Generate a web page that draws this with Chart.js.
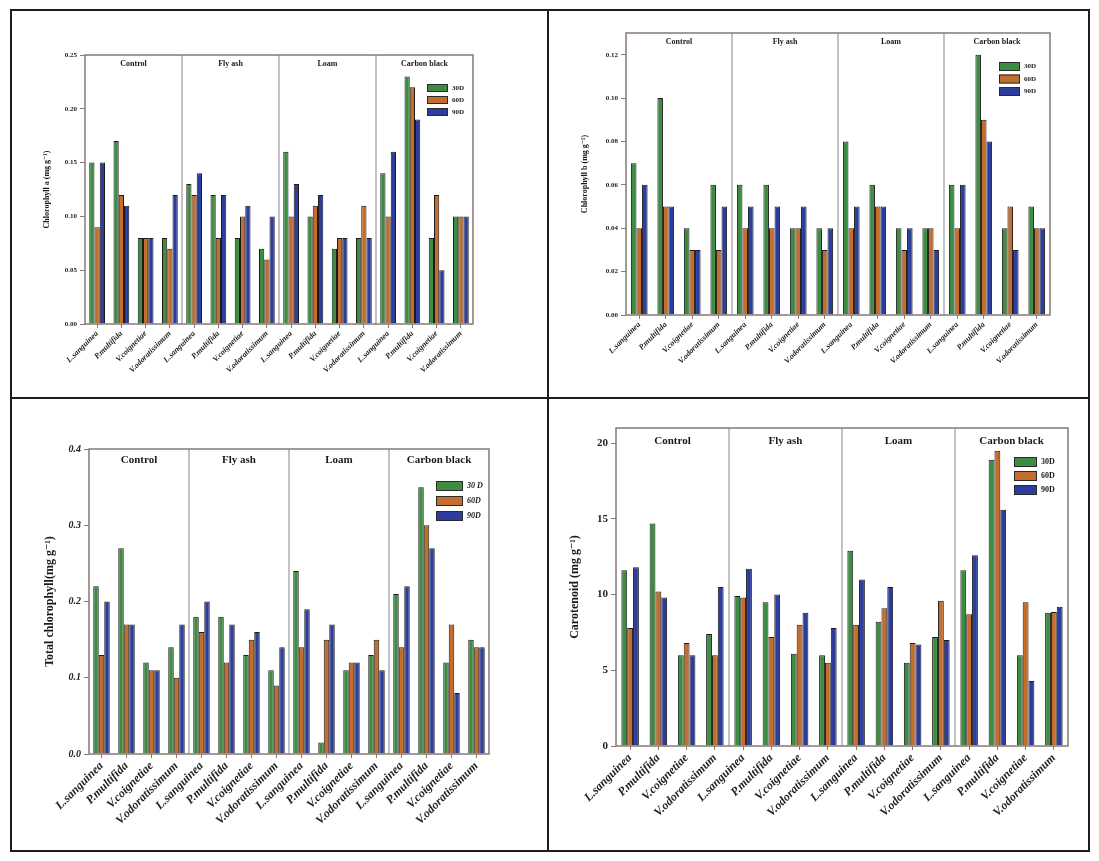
<!DOCTYPE html>
<html>
<head>
<meta charset="utf-8">
<script src="https://cdn.jsdelivr.net/npm/chart.js@4"></script>
<style>
body { margin: 0; background: #fff; width: 1099px; height: 861px; position: relative; overflow: hidden; }
.ln { position: absolute; background: #1e1e1e; }
canvas { position: absolute; }
</style>
</head>
<body>
<div class="ln" style="left:10px;top:9px;width:1080px;height:2px"></div>
<div class="ln" style="left:10px;top:850px;width:1080px;height:2px"></div>
<div class="ln" style="left:10px;top:9px;width:2px;height:843px"></div>
<div class="ln" style="left:1088px;top:9px;width:2px;height:843px"></div>
<div class="ln" style="left:547px;top:9px;width:2px;height:843px"></div>
<div class="ln" style="left:10px;top:397px;width:1080px;height:2px"></div>

<canvas id="chlA" width="535" height="386" style="left:12px;top:11px"></canvas>
<canvas id="chlB" width="539" height="386" style="left:549px;top:11px"></canvas>
<canvas id="total" width="535" height="451" style="left:12px;top:399px"></canvas>
<canvas id="caro" width="539" height="451" style="left:549px;top:399px"></canvas>

<script>
// categories: 4 species repeated for each treatment
const treatments = ['Control', 'Fly ash', 'Loam', 'Carbon black'];
const species = ['L.sanguinea', 'P.multifida', 'V.coignetiae', 'V.odoratissimum'];
const categories = treatments.flatMap(() => species);
const days = ['30D', '60D', '90D'];

// Chlorophyll a (mg g-1)
const chlA30 = [0.15, 0.17, 0.08, 0.08, 0.13, 0.12, 0.08, 0.07, 0.16, 0.10, 0.07, 0.08, 0.14, 0.23, 0.08, 0.10];
const chlA60 = [0.09, 0.12, 0.08, 0.07, 0.12, 0.08, 0.10, 0.06, 0.10, 0.11, 0.08, 0.11, 0.10, 0.22, 0.12, 0.10];
const chlA90 = [0.15, 0.11, 0.08, 0.12, 0.14, 0.12, 0.11, 0.10, 0.13, 0.12, 0.08, 0.08, 0.16, 0.19, 0.05, 0.10];

// Chlorophyll b (mg g-1)
const chlB30 = [0.07, 0.10, 0.04, 0.06, 0.06, 0.06, 0.04, 0.04, 0.08, 0.06, 0.04, 0.04, 0.06, 0.12, 0.04, 0.05];
const chlB60 = [0.04, 0.05, 0.03, 0.03, 0.04, 0.04, 0.04, 0.03, 0.04, 0.05, 0.03, 0.04, 0.04, 0.09, 0.05, 0.04];
const chlB90 = [0.06, 0.05, 0.03, 0.05, 0.05, 0.05, 0.05, 0.04, 0.05, 0.05, 0.04, 0.03, 0.06, 0.08, 0.03, 0.04];

// Total chlorophyll (mg g-1)
const total30 = [0.22, 0.27, 0.12, 0.14, 0.18, 0.18, 0.13, 0.11, 0.24, 0.015, 0.11, 0.13, 0.21, 0.35, 0.12, 0.15];
const total60 = [0.13, 0.17, 0.11, 0.10, 0.16, 0.12, 0.15, 0.09, 0.14, 0.15, 0.12, 0.15, 0.14, 0.30, 0.17, 0.14];
const total90 = [0.20, 0.17, 0.11, 0.17, 0.20, 0.17, 0.16, 0.14, 0.19, 0.17, 0.12, 0.11, 0.22, 0.27, 0.08, 0.14];

// Carotenoid (mg g-1)
const caro30 = [11.6, 14.7, 6.0, 7.4, 9.9, 9.5, 6.1, 6.0, 12.9, 8.2, 5.5, 7.2, 11.6, 18.9, 6.0, 8.8];
const caro60 = [7.8, 10.2, 6.8, 6.0, 9.8, 7.2, 8.0, 5.5, 8.0, 9.1, 6.8, 9.6, 8.7, 19.5, 9.5, 8.85];
const caro90 = [11.8, 9.8, 6.0, 10.5, 11.7, 10.0, 8.8, 7.8, 11.0, 10.5, 6.7, 7.0, 12.6, 15.6, 4.3, 9.2];

const colours = ['#3e8c42', '#c46d2d', '#2d3d9e'];
const frameColour = '#857a74';
const serif = "'Liberation Serif', 'DejaVu Serif', serif";

// group dividers, treatment names, frame and the little legend
const panelDecor = {
    id: 'panelDecor',
    beforeDatasetsDraw(chart, args, o) {
        const x = chart.scales.x, area = chart.chartArea, ctx = chart.ctx;
        ctx.save();
        ctx.strokeStyle = '#9a9a9a';
        ctx.lineWidth = 1.2;
        for (let g = 1; g < treatments.length; g++) {
            const px = (x.getPixelForTick(g * 4 - 1) + x.getPixelForTick(g * 4)) / 2;
            ctx.beginPath();
            ctx.moveTo(px, area.top);
            ctx.lineTo(px, area.bottom);
            ctx.stroke();
        }
        ctx.fillStyle = '#1a1a1a';
        ctx.font = o.groupFont;
        ctx.textAlign = 'center';
        ctx.textBaseline = 'middle';
        treatments.forEach((t, g) => {
            const a = x.getPixelForTick(g * 4), b = x.getPixelForTick(g * 4 + 3);
            ctx.fillText(t, (a + b) / 2, area.top + o.groupY);
        });
        ctx.restore();
    },
    afterDatasetsDraw(chart, args, o) {
        const area = chart.chartArea, ctx = chart.ctx;
        ctx.save();
        ctx.strokeStyle = frameColour;
        ctx.lineWidth = 1.5;
        ctx.strokeRect(area.left, area.top, area.right - area.left, area.bottom - area.top);

        ctx.font = o.legendFont;
        ctx.textBaseline = 'middle';
        ctx.textAlign = 'left';
        chart.data.datasets.forEach((ds, i) => {
            const y = o.legend.y + i * o.legend.step;
            ctx.fillStyle = ds.backgroundColor;
            ctx.fillRect(o.legend.x, y, o.legend.w, o.legend.h);
            ctx.strokeStyle = '#2a2a2a';
            ctx.lineWidth = 1;
            ctx.strokeRect(o.legend.x + 0.5, y + 0.5, o.legend.w - 1, o.legend.h - 1);
            ctx.fillStyle = '#1a1a1a';
            ctx.fillText(o.legendLabels[i], o.legend.x + o.legend.w + 4, y + o.legend.h / 2);
        });
        ctx.restore();
    }
};

function drawPanel(id, p) {
    const titleLine = p.titleSize * 1.2;
    new Chart(document.getElementById(id), {
        type: 'bar',
        data: {
            labels: categories,
            datasets: p.series.map((s, i) => ({
                label: days[i],
                data: s,
                backgroundColor: colours[i],
                borderColor: '#1c1c1c',
                borderWidth: 1,
                categoryPercentage: p.catPct,
                barPercentage: 1
            }))
        },
        options: {
            responsive: false,
            animation: false,
            layout: { padding: { top: p.top, right: p.right, left: 0, bottom: 0 } },
            plugins: {
                legend: { display: false },
                tooltip: { enabled: false },
                panelDecor: p.decor
            },
            scales: {
                x: {
                    grid: { offset: false, drawOnChartArea: false, drawTicks: true, tickLength: 4, color: frameColour },
                    border: { display: false },
                    ticks: {
                        autoSkip: false, minRotation: 45, maxRotation: 45, padding: 1,
                        color: '#222',
                        font: { family: serif, size: p.xFont, weight: 'bold', style: 'italic' }
                    },
                    afterFit: s => { s.height = p.bottom; }
                },
                y: {
                    min: 0, max: p.max,
                    grid: { drawOnChartArea: false, drawTicks: true, tickLength: 5, color: frameColour },
                    border: { display: false },
                    ticks: {
                        stepSize: p.step, includeBounds: false, padding: 3,
                        color: '#222',
                        font: { family: serif, size: p.tickFont, weight: 'bold', style: p.tickStyle || 'normal' },
                        callback: v => v.toFixed(p.decimals)
                    },
                    title: {
                        display: true, text: p.title, color: '#1a1a1a',
                        padding: { top: p.titleX - titleLine / 2, bottom: 0 },
                        font: { family: serif, size: p.titleSize, weight: 'bold' }
                    },
                    afterFit: s => { s.width = p.left; }
                }
            }
        },
        plugins: [panelDecor]
    });
}

drawPanel('chlA', {
    series: [chlA30, chlA60, chlA90], max: 0.25, step: 0.05, decimals: 2,
    left: 73, top: 44, right: 74, bottom: 73, catPct: 0.65,
    tickFont: 7, xFont: 8, title: 'Chlorophyll a (mg g\u207B\u00B9)', titleSize: 8, titleX: 35,
    decor: {
        groupFont: 'bold 8px ' + serif, groupY: 9,
        legendFont: 'bold 7px ' + serif, legendLabels: days,
        legend: { x: 415, y: 73, w: 21, h: 8, step: 12 }
    }
});

drawPanel('chlB', {
    series: [chlB30, chlB60, chlB90], max: 0.13, step: 0.02, decimals: 2,
    left: 77, top: 22, right: 38, bottom: 82, catPct: 0.63,
    tickFont: 7, xFont: 8, title: 'Chlorophyll b (mg g\u207B\u00B9)', titleSize: 8, titleX: 36,
    decor: {
        groupFont: 'bold 8px ' + serif, groupY: 9,
        legendFont: 'bold 7px ' + serif, legendLabels: days,
        legend: { x: 450, y: 51, w: 21, h: 9, step: 12.5 }
    }
});

drawPanel('total', {
    series: [total30, total60, total90], max: 0.4, step: 0.1, decimals: 1,
    left: 77, top: 50, right: 58, bottom: 96, catPct: 0.66,
    tickFont: 10, tickStyle: 'italic', xFont: 12, title: 'Total chlorophyll(mg g\u207B\u00B9)', titleSize: 12, titleX: 38,
    decor: {
        groupFont: 'bold 11px ' + serif, groupY: 11,
        legendFont: 'italic bold 8px ' + serif, legendLabels: ['30 D', '60D', '90D'],
        legend: { x: 424, y: 82, w: 27, h: 10, step: 15 }
    }
});

drawPanel('caro', {
    series: [caro30, caro60, caro90], max: 21, step: 5, decimals: 0,
    left: 67, top: 29, right: 20, bottom: 104, catPct: 0.62,
    tickFont: 11, xFont: 12, title: 'Carotenoid (mg g\u207B\u00B9)', titleSize: 12, titleX: 26,
    decor: {
        groupFont: 'bold 11px ' + serif, groupY: 13,
        legendFont: 'bold 8px ' + serif, legendLabels: days,
        legend: { x: 465, y: 58, w: 23, h: 10, step: 14 }
    }
});
</script>
</body>
</html>
